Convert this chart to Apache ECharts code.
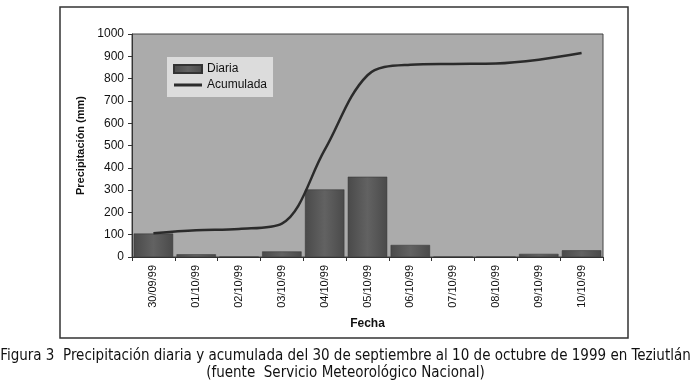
<!DOCTYPE html>
<html>
<head>
<meta charset="utf-8">
<script src="https://cdn.jsdelivr.net/npm/echarts@6/dist/echarts.min.js"></script>
<style>
  html, body { margin: 0; padding: 0; background: #fff; }
  #chart { width: 691px; height: 386px; }
</style>
</head>
<body>
<div id="chart"></div>
<script>
// fechas (eje x)
const fechas = ['30/09/99', '01/10/99', '02/10/99', '03/10/99', '04/10/99', '05/10/99',
  '06/10/99', '07/10/99', '08/10/99', '09/10/99', '10/10/99']
// precipitacion diaria (mm)
const diaria = [105, 12, 0, 25, 303, 360, 54, 0, 0, 14, 30]
// precipitacion acumulada (mm)
const acumulada = [107, 120, 126, 150, 480, 815, 862, 866, 868, 885, 915]

const chart = echarts.init(document.getElementById('chart'))

const option = {
  backgroundColor: '#fff',
  animation: false,
  textStyle: { fontFamily: '"Liberation Sans", Arial, sans-serif' },
  graphic: [
    {
      type: 'rect',
      shape: { x: 60, y: 7, width: 568, height: 331 },
      style: { fill: 'none', stroke: '#333', lineWidth: 1.5 },
      z: 0
    },
    {
      type: 'text',
      left: 'center',
      top: 349,
      style: {
        text: 'Figura 3  Precipitación diaria y acumulada del 30 de septiembre al 10 de octubre de 1999 en Teziutlán',
        font: '15px "Liberation Sans Narrow", "DejaVu Sans Condensed", Arial, sans-serif',
        fill: '#111'
      }
    },
    {
      type: 'text',
      left: 'center',
      top: 366,
      style: {
        text: '(fuente  Servicio Meteorológico Nacional)',
        font: '15px "Liberation Sans Narrow", "DejaVu Sans Condensed", Arial, sans-serif',
        fill: '#111'
      }
    }
  ],
  legend: {
    left: 167,
    top: 57,
    orient: 'vertical',
    itemGap: 4,
    itemWidth: 28,
    itemHeight: 8,
    padding: [6, 6, 6, 6],
    backgroundColor: '#dcdcdc',
    textStyle: { fontSize: 12, color: '#111' },
    data: [
      { name: 'Diaria', icon: 'rect' },
      { name: 'Acumulada', icon: 'path://M0,0H28V3H0Z' }
    ]
  },
  grid: {
    left: 132,
    right: 88,
    top: 34,
    bottom: 129,
    show: true,
    backgroundColor: '#ababab',
    borderColor: '#444',
    borderWidth: 1
  },
  xAxis: {
    type: 'category',
    data: fechas,
    name: 'Fecha',
    nameLocation: 'middle',
    nameGap: 61,
    nameTextStyle: { fontWeight: 'bold', fontSize: 12, color: '#111' },
    axisLine: { lineStyle: { color: '#333' } },
    axisTick: { show: true, alignWithLabel: false, length: 4, lineStyle: { color: '#333' } },
    axisLabel: { rotate: 90, fontSize: 11, color: '#111', margin: 8 }
  },
  yAxis: {
    type: 'value',
    min: 0,
    max: 1000,
    interval: 100,
    name: 'Precipitación (mm)',
    nameLocation: 'middle',
    nameGap: 44,
    nameTextStyle: { fontWeight: 'bold', fontSize: 11, color: '#111' },
    axisLine: { show: true, lineStyle: { color: '#333' } },
    axisTick: { show: true, length: 4, lineStyle: { color: '#333' } },
    axisLabel: { fontSize: 12, color: '#111', margin: 8, formatter: v => String(v) },
    splitLine: { show: false }
  },
  series: [
    {
      name: 'Diaria',
      type: 'bar',
      data: diaria,
      barCategoryGap: '8%',
      itemStyle: {
        color: new echarts.graphic.LinearGradient(0, 0, 1, 0, [
          { offset: 0, color: '#4a4a4a' },
          { offset: 0.5, color: '#626262' },
          { offset: 1, color: '#4a4a4a' }
        ]),
        borderColor: '#333',
        borderWidth: 0.5
      }
    },
    {
      name: 'Acumulada',
      type: 'line',
      data: acumulada,
      smooth: 0.35,
      showSymbol: false,
      symbol: 'none',
      lineStyle: { color: '#2b2b2b', width: 2.5 },
      itemStyle: { color: '#2b2b2b' }
    }
  ]
}

chart.setOption(option)
</script>
</body>
</html>
